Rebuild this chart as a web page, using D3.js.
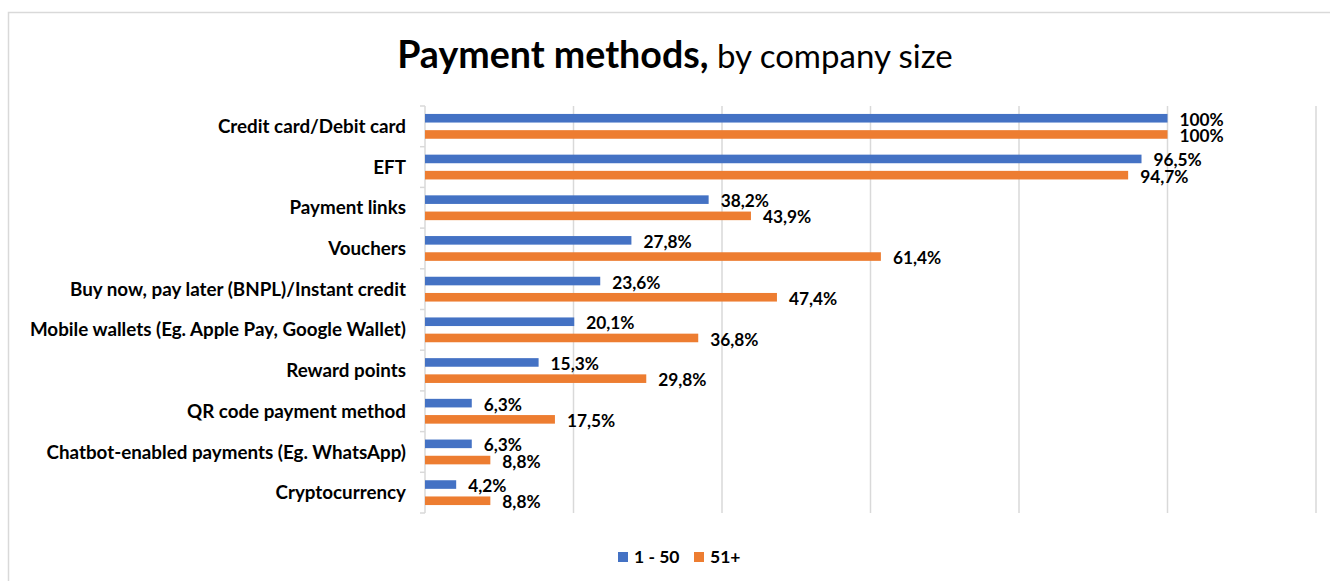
<!DOCTYPE html>
<html>
<head>
<meta charset="utf-8">
<script src="https://cdn.jsdelivr.net/npm/d3@7/dist/d3.min.js"></script>
<style>
  html, body { margin: 0; padding: 0; background: #ffffff; }
  svg { display: block; font-family: Lato, "Open Sans", sans-serif; }
</style>
</head>
<body>
<svg id="chart" width="1330" height="581"></svg>
<script>
// Share of companies offering each payment method, by company size
const categories = [
  "Credit card/Debit card",
  "EFT",
  "Payment links",
  "Vouchers",
  "Buy now, pay later (BNPL)/Instant credit",
  "Mobile wallets (Eg. Apple Pay, Google Wallet)",
  "Reward points",
  "QR code payment method",
  "Chatbot-enabled payments (Eg. WhatsApp)",
  "Cryptocurrency"
];
const seriesNames = ["1 - 50", "51+"];
const small = [100, 96.5, 38.2, 27.8, 23.6, 20.1, 15.3, 6.3, 6.3, 4.2];
const large = [100, 94.7, 43.9, 61.4, 47.4, 36.8, 29.8, 17.5, 8.8, 8.8];
const xTicks = [0, 20, 40, 60, 80, 100, 120];
const colors = ["#4472C4", "#ED7D31"];

const svg = d3.select("#chart");
const W = 1330, H = 581;
const plot = { left: 425, right: 1316, top: 106, bottom: 513 };

// outer chart frame
svg.append("rect")
  .attr("x", 8.5).attr("y", 12.5)
  .attr("width", W + 20).attr("height", H + 20)
  .attr("fill", "none").attr("stroke", "#d9d9d9").attr("stroke-width", 1.5);

// title
const title = svg.append("text")
  .attr("x", 675).attr("y", 68)
  .attr("text-anchor", "middle")
  .attr("fill", "#000");
title.append("tspan").attr("font-weight", 700).attr("font-size", 37.6).text("Payment methods,");
title.append("tspan").attr("font-weight", 400).attr("font-size", 33).text(" by company size");

const x = d3.scaleLinear().domain([0, 120]).range([plot.left, plot.right]);
const y = d3.scaleBand().domain(categories).range([plot.top, plot.bottom]).padding(0);
const ySub = d3.scaleBand().domain(seriesNames).range([0, y.bandwidth()])
  .paddingInner(0.47).paddingOuter(0.49);

// vertical gridlines
svg.append("g")
  .selectAll("line")
  .data(xTicks.filter(d => d > 0))
  .join("line")
  .attr("x1", d => x(d)).attr("x2", d => x(d))
  .attr("y1", plot.top).attr("y2", plot.bottom)
  .attr("stroke", "#d9d9d9").attr("stroke-width", 1.5);

// category axis with tick marks at band boundaries
const axisG = svg.append("g").attr("transform", `translate(${plot.left},0)`);
axisG.append("line")
  .attr("x1", 0).attr("x2", 0)
  .attr("y1", plot.top).attr("y2", plot.bottom)
  .attr("stroke", "#d9d9d9").attr("stroke-width", 1.5);
const bounds = categories.map(c => y(c)).concat([plot.bottom]);
axisG.selectAll("line.tick")
  .data(bounds)
  .join("line")
  .attr("class", "tick")
  .attr("x1", -5).attr("x2", 0)
  .attr("y1", d => d).attr("y2", d => d)
  .attr("stroke", "#d9d9d9").attr("stroke-width", 1.5);

axisG.selectAll("text")
  .data(categories)
  .join("text")
  .attr("x", -19)
  .attr("y", d => y(d) + y.bandwidth() / 2)
  .attr("dy", "0.35em")
  .attr("text-anchor", "end")
  .attr("font-size", 18.8)
  .attr("font-weight", 700)
  .attr("fill", "#000")
  .text(d => d);

// bars
const rows = categories.map((c, i) => ({ cat: c, vals: [small[i], large[i]] }));
const fmt = v => (v === 100 ? "100" : d3.format(".1f")(v).replace(".", ",")) + "%";

const rowG = svg.append("g").selectAll("g")
  .data(rows)
  .join("g")
  .attr("transform", d => `translate(0,${y(d.cat)})`);

rowG.selectAll("rect")
  .data(d => d.vals.map((v, k) => ({ v, k })))
  .join("rect")
  .attr("x", x(0))
  .attr("y", d => ySub(seriesNames[d.k]))
  .attr("width", d => x(d.v) - x(0))
  .attr("height", ySub.bandwidth())
  .attr("fill", d => colors[d.k]);

rowG.selectAll("text")
  .data(d => d.vals.map((v, k) => ({ v, k })))
  .join("text")
  .attr("x", d => x(d.v) + 12)
  .attr("y", d => ySub(seriesNames[d.k]) + ySub.bandwidth() / 2 + 1.5)
  .attr("dy", "0.35em")
  .attr("font-size", 17.3)
  .attr("font-weight", 700)
  .attr("fill", "#000")
  .text(d => fmt(d.v));

// legend
const legendX = [618, 694];
const legend = svg.append("g").selectAll("g")
  .data(seriesNames)
  .join("g")
  .attr("transform", (d, i) => `translate(${legendX[i]},552)`);
legend.append("rect")
  .attr("width", 10).attr("height", 10)
  .attr("fill", (d, i) => colors[i]);
legend.append("text")
  .attr("x", 16).attr("y", 5)
  .attr("dy", "0.35em")
  .attr("font-size", 17.5)
  .attr("font-weight", 700)
  .attr("fill", "#000")
  .text(d => d);
</script>
</body>
</html>
